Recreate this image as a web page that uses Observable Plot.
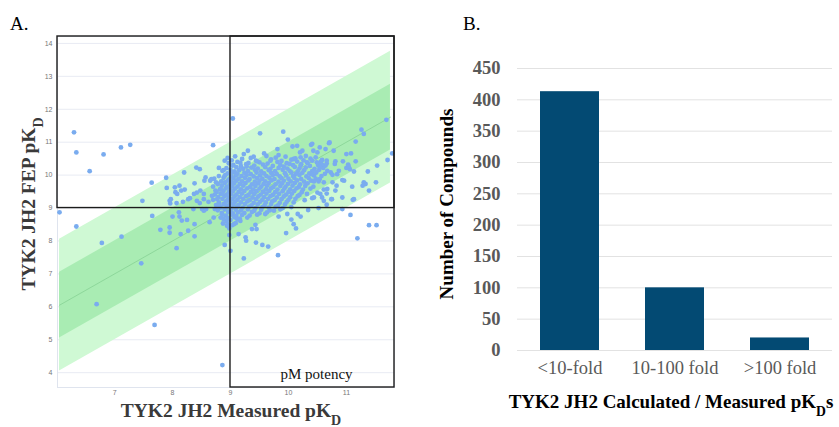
<!DOCTYPE html>
<html><head><meta charset="utf-8">
<script src="https://cdn.jsdelivr.net/npm/d3@7"></script>
<script src="https://cdn.jsdelivr.net/npm/@observablehq/plot@0.6"></script>
<style>
body{margin:0;background:#fff;}
#wrap{position:relative;width:839px;height:427px;overflow:hidden;background:#fff;}
#wrap svg{position:absolute;top:0;}
</style></head><body><div id="wrap"></div>
<script>
// ---------- Panel A data ----------
const measuredRange = [6.015, 11.83];
const fepRange = [3.55, 14.21];
const potencyCut = 9;
const bandRange = [6.05, 11.76];
const xTicksA = [7, 8, 9, 10, 11];
const yTicksA = [4, 5, 6, 7, 8, 9, 10, 11, 12, 13, 14];
const annotationA = ["pM potency"];

const scatterEdge = [
[6.05,8.87],[6.30,11.30],[6.34,10.69],[6.57,10.12],[6.81,10.63],[7.11,10.84],[7.27,10.92],[8.70,10.91],[9.04,11.72],
[6.34,8.44],[6.78,7.94],[7.12,8.13],[7.46,7.32],[6.69,6.08],[7.69,5.45],[8.86,4.23],
[7.48,9.22],[7.64,9.77],[7.89,9.92],[8.20,10.08],[7.65,8.76],[7.79,8.34],[7.95,8.25],[7.95,8.41],[8.07,7.78],[8.14,8.21],[8.38,8.14],[8.27,8.31],[8.38,8.51],[8.00,8.74],[8.12,8.74],[8.16,8.62],[8.25,8.64],[8.11,8.87],[8.64,8.57],[8.71,8.71],[8.87,8.53],[8.90,7.88],[9.00,7.70],[8.98,8.18],[8.83,8.71],[8.86,8.80],[8.93,8.61],[8.95,8.51],[8.98,8.38],[9.00,8.64],[9.03,8.48],[8.94,8.46],[8.88,8.67],
[7.95,9.22],[7.96,9.14],[8.07,9.15],[8.18,9.19],[8.27,9.27],[8.36,8.97],[8.42,9.22],[8.47,9.15],[8.51,8.97],[8.54,8.92],[8.58,8.97],[8.62,9.19],[8.73,8.97],[8.81,9.07],[8.90,9.12],
[8.41,10.23],[8.47,10.18],[7.90,9.61],[8.04,9.63],[8.05,9.48],[8.12,9.68],[8.15,9.53],[8.21,9.56],[8.08,9.43],[8.38,9.75],[8.42,9.47],[8.48,9.53],[8.55,9.83],[8.57,9.93],[8.65,9.83],[8.67,9.88],[8.75,9.78],[8.80,10.22],[8.88,10.15],[8.90,10.44],[8.95,10.52],[8.90,9.98],[8.91,9.78],[8.83,9.58],[8.86,9.43],[8.74,9.53],[8.68,9.37],[8.54,9.43],[8.37,9.43],[8.30,9.30],[7.97,9.27],[9.03,10.29],[8.54,9.27],[8.77,9.27],
[9.23,7.47],[9.82,7.57],[9.44,7.95],[9.55,7.88],[9.65,7.83],[9.26,8.11],[9.27,8.01],[9.14,8.21],[9.37,8.36],[9.43,8.49],[9.17,8.61],[9.06,8.51],[9.60,8.82],[9.75,8.92],[10.13,8.38],[10.09,8.51],[10.05,8.65],[9.96,8.24],[9.83,8.74],[9.98,8.82],[10.16,8.82],[10.34,8.94],[9.12,8.66],[9.09,8.54],[9.45,8.36],[10.21,8.74],[10.52,9.00],[10.66,9.10],[10.74,9.27],
[11.07,8.79],[11.19,8.08],[11.39,8.48],[11.52,8.48],[10.93,8.97],[11.11,9.25],
[9.51,11.27],[9.91,11.32],[9.99,11.08],[10.07,10.87],[10.15,10.89],[10.24,10.74],[9.81,10.79],[9.58,10.66],[9.30,10.74],[9.23,10.64],[9.40,10.56],[9.46,10.42],[9.17,10.37],[9.28,10.26],[9.69,10.44],[9.83,10.61],[10.09,10.49],[10.02,10.34],[10.21,10.29],[10.41,10.44],
[10.20,10.69],[10.21,10.54],[10.39,10.92],[10.43,10.74],[10.54,10.84],[10.56,10.41],[10.32,10.39],
[11.69,11.68],[11.26,11.38],[11.30,11.25],[11.16,11.02],[11.79,10.66],[11.71,10.46],[11.53,10.29],[11.37,10.11],[10.70,10.97],[10.78,10.74],[10.64,10.79],[11.00,10.64],[11.08,10.66],[10.50,10.69],[10.41,10.95],[10.94,10.42],[11.16,10.42],[11.03,10.32],[11.00,10.22],[11.06,10.18],[11.13,10.11],[10.81,10.42],[10.80,10.34],[10.66,10.44],[10.64,10.29],[10.58,10.32],[10.54,10.24],[10.73,10.08],[10.76,10.01],[10.96,9.83],[11.10,9.65],[11.30,9.78],[11.28,9.68],[11.39,9.53],[11.51,9.78],[11.13,9.27],[10.81,9.53],[10.83,9.68],[10.76,9.78],[10.75,9.27],[10.40,10.03],[10.44,9.81],[10.54,9.88],[10.61,9.78],[10.61,9.56],[10.50,9.47],[10.66,9.44],[10.58,9.32],[10.41,9.30],[10.93,9.85],[11.04,10.26],[10.87,10.13],[10.71,10.99],[10.84,10.03],[10.67,10.13],[10.93,9.32],[10.55,9.43],[10.67,9.58],[10.44,9.32],[10.61,9.22],[11.33,9.73]
];

const scatterCore = [
[9.08,10.57],[9.35,10.52],[9.62,10.58],[9.78,10.53],[9.95,10.56],[10.12,10.51],[10.3,10.58],[10.47,10.54],
[9.02,10.45],[9.2,10.49],[9.44,10.44],[9.7,10.48],[9.88,10.43],[10.05,10.47],[10.26,10.45],[10.38,10.5],[10.58,10.46],
[8.97,10.36],[9.12,10.4],[9.31,10.37],[9.5,10.39],[9.64,10.35],[9.81,10.4],[9.97,10.36],[10.15,10.41],[10.33,10.37],[10.49,10.39],[10.66,10.35],
[9.05,10.31],[9.18,10.27],[9.27,10.33],[9.41,10.29],[9.56,10.32],[9.73,10.28],[9.86,10.31],[9.92,10.26],[10.08,10.3],[10.22,10.33],[10.37,10.28],[10.51,10.31],
[8.93,10.21],[9.1,10.24],[9.22,10.19],[9.36,10.23],[9.47,10.2],[9.6,10.24],[9.69,10.19],[9.83,10.22],[9.98,10.2],[10.11,10.25],[10.19,10.2],[10.3,10.23],[10.45,10.19],[10.6,10.22],
[8.86,10.13],[9.0,10.16],[9.07,10.11],[9.15,10.15],[9.3,10.12],[9.42,10.16],[9.53,10.11],[9.66,10.15],[9.77,10.12],[9.9,10.16],[10.02,10.13],[10.16,10.11],[10.27,10.15],[10.41,10.12],[10.53,10.16],
[8.95,10.05],[9.03,10.08],[9.12,10.04],[9.24,10.07],[9.35,10.03],[9.45,10.08],[9.58,10.05],[9.7,10.07],[9.8,10.03],[9.94,10.06],[10.05,10.08],[10.13,10.04],[10.24,10.07],[10.36,10.05],[10.48,10.08],[10.63,10.04],
[8.8,9.97],[8.91,10.0],[9.01,9.96],[9.09,9.99],[9.19,9.97],[9.28,10.0],[9.4,9.96],[9.51,9.99],[9.62,9.97],[9.73,10.0],[9.85,9.96],[9.96,9.99],[10.08,9.97],[10.19,10.0],[10.31,9.96],[10.44,9.99],[10.57,9.97],
[8.72,9.89],[8.88,9.92],[8.98,9.88],[9.05,9.91],[9.14,9.89],[9.25,9.92],[9.33,9.88],[9.46,9.91],[9.55,9.89],[9.67,9.92],[9.76,9.88],[9.88,9.91],[10.0,9.89],[10.1,9.92],[10.22,9.88],[10.35,9.91],[10.47,9.89],
[8.84,9.81],[8.96,9.84],[9.02,9.8],[9.1,9.83],[9.2,9.81],[9.31,9.84],[9.42,9.8],[9.5,9.83],[9.6,9.81],[9.71,9.84],[9.83,9.8],[9.92,9.83],[10.04,9.81],[10.15,9.84],[10.27,9.8],[10.39,9.83],[10.52,9.81],
[8.78,9.73],[8.9,9.76],[8.99,9.72],[9.06,9.75],[9.16,9.73],[9.26,9.76],[9.37,9.72],[9.48,9.75],[9.57,9.73],[9.66,9.76],[9.78,9.72],[9.89,9.75],[9.99,9.73],[10.11,9.76],[10.2,9.72],[10.33,9.75],
[8.7,9.65],[8.85,9.68],[8.94,9.64],[9.03,9.67],[9.12,9.65],[9.22,9.68],[9.34,9.64],[9.43,9.67],[9.53,9.65],[9.63,9.68],[9.74,9.64],[9.86,9.67],[9.95,9.65],[10.07,9.68],[10.18,9.64],[10.29,9.67],[10.43,9.65],
[8.82,9.57],[8.92,9.6],[9.0,9.56],[9.08,9.59],[9.18,9.57],[9.29,9.6],[9.39,9.56],[9.5,9.59],[9.61,9.57],[9.7,9.6],[9.81,9.56],[9.93,9.59],[10.03,9.57],[10.14,9.6],[10.25,9.56],[10.38,9.59],
[8.76,9.49],[8.88,9.52],[8.97,9.48],[9.04,9.51],[9.14,9.49],[9.24,9.52],[9.35,9.48],[9.45,9.51],[9.56,9.49],[9.67,9.52],[9.77,9.48],[9.9,9.51],[10.0,9.49],[10.1,9.52],[10.23,9.48],
[8.73,9.41],[8.83,9.44],[8.93,9.4],[9.01,9.43],[9.1,9.41],[9.2,9.44],[9.31,9.4],[9.41,9.43],[9.52,9.41],[9.62,9.44],[9.73,9.4],[9.84,9.43],[9.96,9.41],[10.06,9.44],[10.19,9.4],[10.32,9.43],
[8.79,9.33],[8.9,9.36],[8.98,9.32],[9.07,9.35],[9.16,9.33],[9.27,9.36],[9.38,9.32],[9.48,9.35],[9.58,9.33],[9.69,9.36],[9.8,9.32],[9.92,9.35],[10.03,9.33],[10.16,9.36],
[8.7,9.25],[8.86,9.28],[8.95,9.24],[9.03,9.27],[9.12,9.25],[9.22,9.28],[9.33,9.24],[9.44,9.27],[9.55,9.25],[9.65,9.28],[9.76,9.24],[9.88,9.27],[10.0,9.25],[10.12,9.28],[10.28,9.24],
[8.8,9.17],[8.92,9.2],[9.0,9.16],[9.08,9.19],[9.18,9.17],[9.29,9.2],[9.4,9.16],[9.51,9.19],[9.61,9.17],[9.72,9.2],[9.85,9.16],[9.97,9.19],[10.09,9.17],
[8.75,9.09],[8.88,9.12],[8.97,9.08],[9.05,9.11],[9.14,9.09],[9.25,9.12],[9.36,9.08],[9.47,9.11],[9.59,9.09],[9.7,9.12],[9.82,9.08],[9.94,9.11],
[8.83,9.01],[8.94,9.04],[9.02,9.0],[9.11,9.03],[9.21,9.01],[9.32,9.04],[9.43,9.0],[9.55,9.03],[9.66,9.01],[9.78,9.04],[9.9,9.0],[10.05,9.03],
[8.78,8.93],[8.9,8.96],[9.0,8.92],[9.09,8.95],[9.18,8.93],[9.3,8.96],[9.41,8.92],[9.53,8.95],[9.68,8.93],[9.86,8.96],
[8.85,8.85],[8.96,8.88],[9.04,8.84],[9.13,8.87],[9.24,8.85],[9.37,8.88],[9.5,8.84],[9.63,8.87],
[8.92,8.77],[9.02,8.8],[9.1,8.76],[9.2,8.79],[9.33,8.77],[9.46,8.8],
[8.96,8.69],[9.07,8.72],[9.16,8.68],[9.29,8.71]
];

// ---------- Panel B data ----------
const foldCategories = ["<10-fold", "10-100 fold", ">100 fold"];
const foldCounts = [413, 100, 20];
const yTicksB = [0, 50, 100, 150, 200, 250, 300, 350, 400, 450];

// ---------- build tables ----------
const points = [...scatterCore, ...scatterEdge].map(([m, f]) => ({m, f}));
const band = bandRange.map(x => ({x, lo2: x - 2, hi2: x + 2, lo1: x - 1, hi1: x + 1}));
const boxes = [
  {x1: measuredRange[0], x2: measuredRange[1], y1: potencyCut, y2: fepRange[1]},
  {x1: potencyCut, x2: measuredRange[1], y1: fepRange[0], y2: fepRange[1]}
];
const bars = foldCategories.map((c, i) => ({cat: c, count: foldCounts[i]}));

const serif = "Liberation Serif";
const sans = "Liberation Sans";

const plotA = Plot.plot({
  width: 420, height: 427,
  marginLeft: 57, marginRight: 26, marginTop: 36, marginBottom: 40,
  x: {domain: measuredRange, axis: null},
  y: {domain: fepRange, axis: null},
  style: {background: "transparent"},
  marks: [
    Plot.gridY(yTicksA, {stroke: "#e8ebf3", strokeOpacity: 1}),
    Plot.frame({stroke: "#dfe4ee"}),
    Plot.areaY(band, {x: "x", y1: "lo2", y2: "hi2", fill: "#cff9d4"}),
    Plot.areaY(band, {x: "x", y1: "lo1", y2: "hi1", fill: "#a9ecb3"}),
    Plot.lineY(band, {x: "x", y: "x", stroke: "#86d294", strokeWidth: 0.8}),
    Plot.dot(points, {x: "m", y: "f", r: 2.4, fill: "#7aacef", stroke: "none"}),
    Plot.rect(boxes, {x1: "x1", x2: "x2", y1: "y1", y2: "y2", fill: "none", stroke: "#1c1c1c", strokeWidth: 1.4}),
    Plot.text(xTicksA, {x: d => d, frameAnchor: "bottom", dy: 7, text: d => String(d),
      fontSize: 7, fontFamily: sans, fill: "#777"}),
    Plot.text(yTicksA, {y: d => d, frameAnchor: "left", dx: -5, textAnchor: "end", text: d => String(d),
      fontSize: 7, fontFamily: sans, fill: "#777"}),
    Plot.text(annotationA, {x: () => (potencyCut + measuredRange[1]) / 2, y: () => fepRange[0], text: d => d,
      dx: 4, dy: -13, fontSize: 15, fontFamily: serif, fill: "#111"})
  ]
});

const plotB = Plot.plot({
  width: 419, height: 427,
  marginLeft: 97, marginRight: 7, marginTop: 68, marginBottom: 77,
  x: {domain: foldCategories, paddingInner: 0.438, paddingOuter: 0.219, axis: null},
  y: {domain: [0, 450], axis: null},
  style: {background: "transparent"},
  marks: [
    Plot.gridY(yTicksB, {stroke: "#e2e2e2", strokeOpacity: 1}),
    Plot.barY(bars, {x: "cat", y: "count", fill: "#034a73"}),
    Plot.text(yTicksB, {y: d => d, frameAnchor: "left", dx: -17, textAnchor: "end", text: d => String(d),
      fontSize: 18.5, fontWeight: "bold", fontFamily: serif, fill: "#595959"}),
    Plot.text(foldCategories, {x: d => d, frameAnchor: "bottom", dy: 23, text: d => d,
      fontSize: 18.5, fontFamily: serif, fill: "#595959"})
  ]
});

const wrap = document.getElementById("wrap");
plotA.style.left = "0px";
plotB.style.left = "420px";
wrap.appendChild(plotA);
wrap.appendChild(plotB);

function addTitle(svg, parts, attrs) {
  const t = d3.select(svg).append("text")
    .attr("font-family", serif)
    .attr("text-anchor", attrs.anchor || "middle")
    .attr("font-size", attrs.size)
    .attr("font-weight", attrs.weight || "normal")
    .attr("fill", attrs.fill || "#000")
    .attr("transform", attrs.transform);
  for (const p of parts) {
    const s = t.append("tspan").text(p.t);
    if (p.sub) s.attr("baseline-shift", "sub").attr("font-size", "0.72em");
  }
}

addTitle(plotA, [{t: "A."}], {anchor: "start", size: 19, transform: "translate(10,30)"});
addTitle(plotA, [{t: "TYK2 JH2 FEP pK"}, {t: "D", sub: true}],
  {size: 19.5, weight: "bold", fill: "#3a3a3a", transform: "translate(35,204) rotate(-90)"});
addTitle(plotA, [{t: "TYK2 JH2 Measured pK"}, {t: "D", sub: true}],
  {size: 19.5, weight: "bold", fill: "#3a3a3a", transform: "translate(231,417)"});

addTitle(plotB, [{t: "B."}], {anchor: "start", size: 19, transform: "translate(43,30)"});
addTitle(plotB, [{t: "Number of Compounds"}],
  {size: 19, weight: "bold", transform: "translate(33,204) rotate(-90)"});
addTitle(plotB, [{t: "TYK2 JH2 Calculated / Measured pK"}, {t: "D", sub: true}, {t: "s"}],
  {size: 19, weight: "bold", transform: "translate(251,408)"});
</script>
</body></html>
